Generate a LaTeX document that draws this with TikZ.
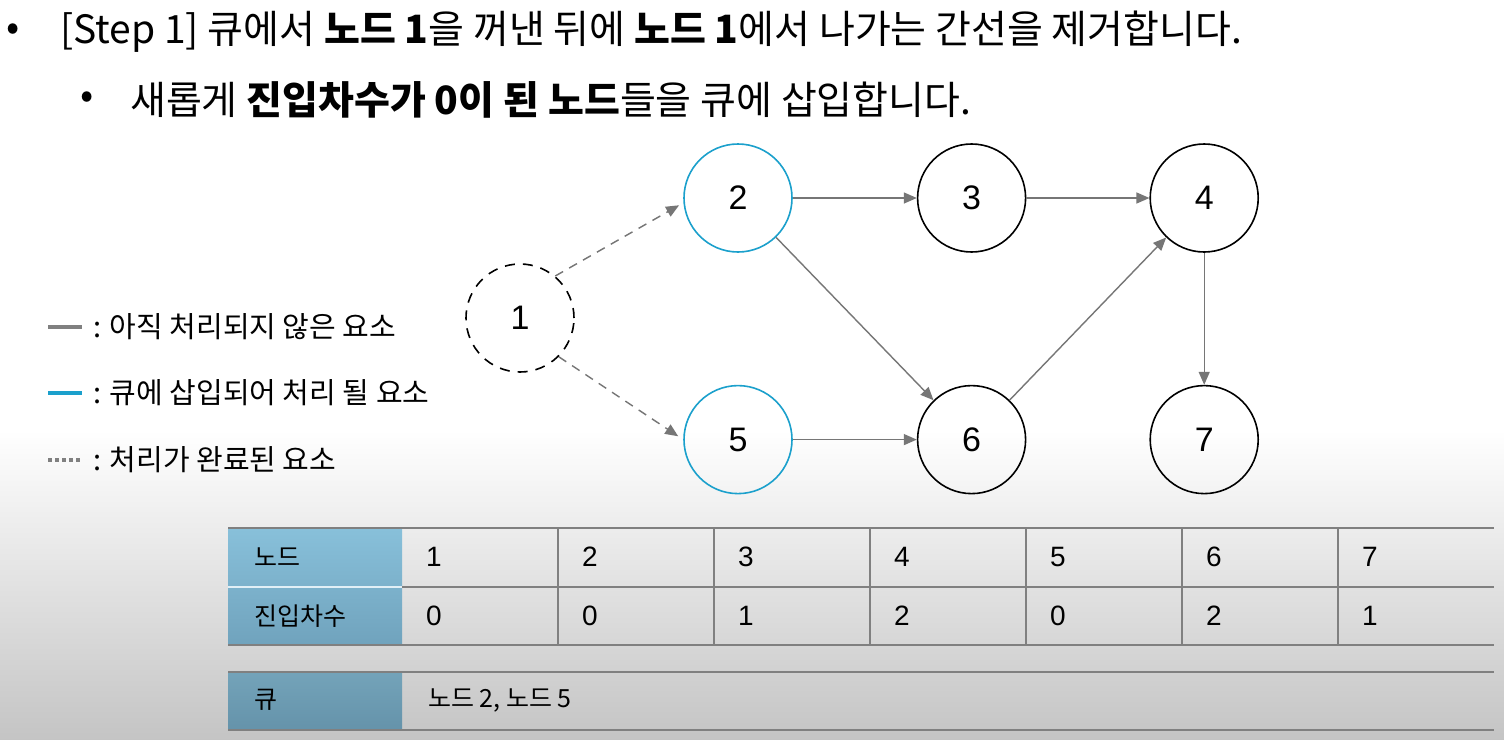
\documentclass[tikz,border=0pt]{standalone}
\usepackage{fontspec}
\setmainfont{Noto Sans CJK KR}
\newfontfamily\numfont{Liberation Sans}
\usepackage{xcolor}
\usepackage{tikz}
\usetikzlibrary{arrows.meta,positioning}
\definecolor{edgegray}{RGB}{118,118,118}
\definecolor{queuecyan}{RGB}{27,160,204}
\definecolor{hdtop}{RGB}{136,192,218}
\definecolor{hdbot}{RGB}{112,163,189}
\definecolor{rulegray}{RGB}{128,128,128}
\tikzset{
  vertex/.style={circle, draw=black, line width=1.6pt, minimum size=108pt, inner sep=0pt, font=\numfont\fontsize{34}{34}\selectfont},
  queued/.style={vertex, draw=queuecyan},
  done/.style={vertex, dash pattern=on 10pt off 8pt},
  edgearrow/.style={-{Triangle[length=13pt,width=11pt]}, draw=edgegray, line width=1.4pt},
  donearrow/.style={edgearrow, dash pattern=on 9pt off 7pt},
  titletext/.style={anchor=west, inner sep=0pt, font=\fontsize{39}{39}\selectfont},
  legendtext/.style={anchor=west, inner sep=0pt, font=\fontsize{29}{29}\selectfont},
  headcell/.style={anchor=west, inner sep=0pt, font=\fontsize{25}{25}\selectfont},
  datacell/.style={anchor=west, inner sep=0pt, font=\numfont\fontsize{28}{28}\selectfont},
  tablerule/.style={draw=rulegray, line width=1.5pt}
}

\begin{document}
\begin{tikzpicture}[x=1pt, y=-1pt]
\useasboundingbox (0,0) rectangle (1504,739);
\fill[white] (0,0) rectangle (1504,739);
\shade[top color=white, bottom color=black!23] (0,430) rectangle (1504,739);

% title lines
\node[titletext] (bullet1) at (6,32) {•};
\node[titletext] (title1) at (60,32) {[Step 1] 큐에서 \textbf{노드 1}을 꺼낸 뒤에 \textbf{노드 1}에서 나가는 간선을 제거합니다.};
\node[titletext] (bullet2) at (80,100) {•};
\node[titletext] (title2) at (130,100) {새롭게 \textbf{진입차수가 0이 된 노드}들을 큐에 삽입합니다.};

% legend
\draw[draw=gray, line width=4pt] (48,327) -- (82,327);
\draw[draw=queuecyan, line width=4pt] (48,393) -- (82,393);
\draw[draw=gray, line width=4pt, dash pattern=on 4pt off 3pt] (48,460) -- (82,460);
\node[legendtext] (leg1) at (93,327) {: 아직 처리되지 않은 요소};
\node[legendtext] (leg2) at (93,393) {: 큐에 삽입되어 처리 될 요소};
\node[legendtext] (leg3) at (93,460) {: 처리가 완료된 요소};

% graph
\node[done] (n1) at (520,318) {1};
\node[queued] (n2) at (738,198) {2};
\node[vertex, right=124pt of n2] (n3) {3};
\node[vertex, right=123pt of n3] (n4) {4};
\node[queued, below=132pt of n2] (n5) {5};
\node[vertex, right=124pt of n5] (n6) {6};
\node[vertex, right=123pt of n6] (n7) {7};

\draw[donearrow, shorten >=5pt] (n1.50) -- (n2.185);
\draw[donearrow, shorten >=6pt] (n1.-45) -- (n5.180);
\draw[edgearrow] (n2) -- (n3);
\draw[edgearrow] (n3) -- (n4);
\draw[edgearrow] (n2) -- (n6);
\draw[edgearrow] (n5) -- (n6);
\draw[edgearrow] (n6) -- (n4);
\draw[edgearrow] (n4) -- (n7);

% indegree table
\shade[top color=hdtop, bottom color=hdbot] (228,528) rectangle (402,645);
\shade[top color=hdtop!85!black, bottom color=hdbot!90!black] (228,672) rectangle (402,730);
\draw[white!75!hdtop, line width=1.5pt] (228,587) -- (402,587);
\draw[tablerule] (228,528) -- (1494,528);
\draw[tablerule] (402,587) -- (1494,587);
\draw[tablerule] (228,645) -- (1494,645);
\draw[tablerule] (228,672) -- (1494,672);
\draw[tablerule] (228,730) -- (1494,730);
\foreach \c in {558,714,870,1026,1182,1338}
  \draw[tablerule] (\c,528) -- (\c,645);

\node[headcell] (hnode) at (254,557) {노드};
\node[headcell] (hdeg) at (254,616) {진입차수};
\node[headcell] (hqueue) at (254,700) {큐};
\foreach \i/\d [count=\k from 0] in {1/0,2/0,3/1,4/2,5/0,6/2,7/1} {
  \node[datacell] (node\i) at (426+156*\k,557) {\i};
  \node[datacell] (deg\i) at (426+156*\k,616) {\d};
}
\node[headcell] (qlist) at (428,700) {노드 2, 노드 5};
\end{tikzpicture}
\end{document}
